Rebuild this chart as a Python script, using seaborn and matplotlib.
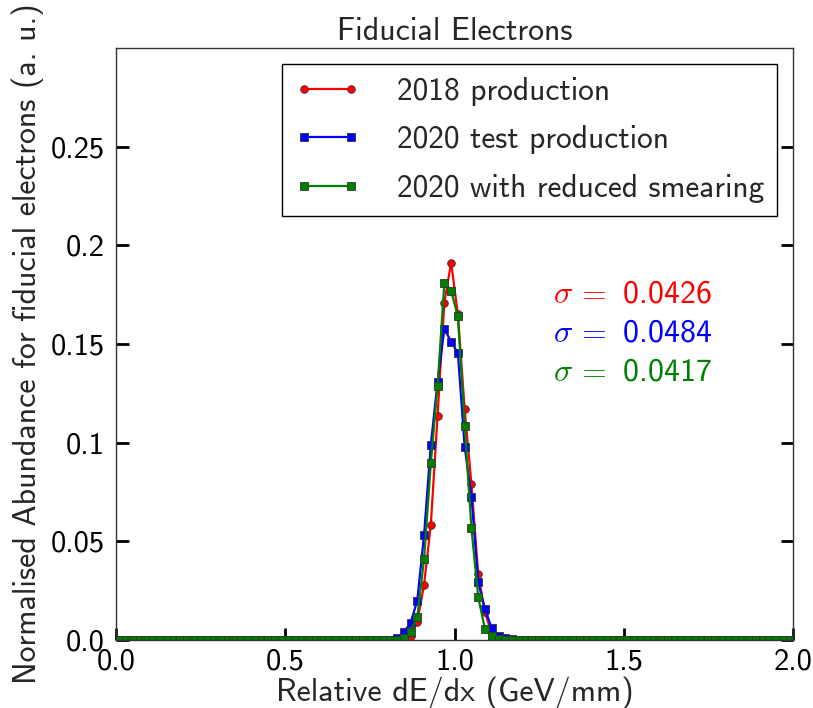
import numpy as np
import pandas as pd
import matplotlib
matplotlib.use("Agg")
import matplotlib.pyplot as plt
import seaborn as sns

# ---------------- data ----------------
bin_centers = np.round(np.arange(0.01, 2.0, 0.02), 2)   # 100 bins of width 0.02 on [0, 2]
peak_x = [0.83, 0.85, 0.87, 0.89, 0.91, 0.93, 0.95, 0.97, 0.99, 1.01,
          1.03, 1.05, 1.07, 1.09, 1.11, 1.13, 1.15, 1.17]
red_peak = [0.0, 0.0003, 0.0022, 0.0093, 0.0279, 0.0585, 0.1138, 0.1710, 0.1913, 0.1650,
            0.1170, 0.0790, 0.0333, 0.0140, 0.0035, 0.0010, 0.0002, 0.0]
blue_peak = [0.0010, 0.0042, 0.0085, 0.0200, 0.0532, 0.0989, 0.1310, 0.1577, 0.1513, 0.1454,
             0.0980, 0.0727, 0.0292, 0.0157, 0.0059, 0.0022, 0.0010, 0.0003]
green_peak = [0.0, 0.0010, 0.0042, 0.0115, 0.0410, 0.0895, 0.1290, 0.1810, 0.1770, 0.1640,
              0.1087, 0.0566, 0.0218, 0.0055, 0.0018, 0.0003, 0.0, 0.0]

labels = ["2018 production", "2020 test production", "2020 with reduced smearing"]
colors = ["red", "blue", "green"]
markers = ["o", "s", "s"]
sigmas = ["0.0426", "0.0484", "0.0417"]


def full(peak):
    vals = np.zeros(len(bin_centers))
    for xv, yv in zip(peak_x, peak):
        vals[np.argmin(np.abs(bin_centers - xv))] = yv
    return vals


series = [full(red_peak), full(blue_peak), full(green_peak)]

# ---------------- style ----------------
sns.set_style("ticks")
plt.rcParams["font.family"] = ["cmss10", "DejaVu Sans"]
plt.rcParams["mathtext.fontset"] = "cm"
plt.rcParams["axes.unicode_minus"] = False
plt.rcParams["axes.formatter.use_mathtext"] = False

FS_TICK = 22
FS = 23

fig = plt.figure(figsize=(8.13, 7.08), dpi=100)
ax = fig.add_axes([0.1427, 0.096, 0.9754 - 0.1427, 0.932 - 0.096])

for vals, lab, col, mk in zip(series, labels, colors, markers):
    df = pd.DataFrame({"x": bin_centers, "y": vals})
    sns.lineplot(data=df, x="x", y="y", ax=ax, color=col, label=lab,
                 marker=mk, markersize=5.5, markeredgecolor="#333333",
                 markeredgewidth=0.6, linewidth=1.6, estimator=None,
                 sort=True, errorbar=None)

ax.set_xlim(0, 2.0)
ax.set_ylim(0, 0.3)
ax.set_xticks([0.0, 0.5, 1.0, 1.5, 2.0])
ax.set_xticklabels(["0.0", "0.5", "1.0", "1.5", "2.0"])
ax.set_yticks([0.0, 0.05, 0.1, 0.15, 0.2, 0.25])
ax.set_yticklabels(["0.0", "0.05", "0.1", "0.15", "0.2", "0.25"])

ax.tick_params(axis="both", direction="in", length=9, width=2, labelsize=FS_TICK,
               colors="black")
ax.tick_params(axis="x", pad=6)
ax.tick_params(axis="y", pad=8, right=True)
for sp in ax.spines.values():
    sp.set_visible(True)
    sp.set_linewidth(1.0)
    sp.set_color("#333333")

ax.set_xlabel("Relative dE/dx (GeV/mm)", fontsize=FS, labelpad=1)
ax.set_ylabel("Normalised Abundance for fiducial electrons (a. u.)", fontsize=FS, labelpad=5)
ax.set_title("Fiducial Electrons", fontsize=FS, pad=6)

leg = ax.legend(loc="upper right", fontsize=22.6, numpoints=2, fancybox=False,
                framealpha=1, edgecolor="black", handlelength=2.1,
                handletextpad=1.15, labelspacing=0.62, borderpad=0.42,
                borderaxespad=0.5)
leg.get_frame().set_linewidth(1.0)

for i, (s, col) in enumerate(zip(sigmas, colors)):
    ax.text(1.29, 0.1755 - i * 0.0198, r"$\sigma\,=$ " + s,
            color=col, fontsize=FS, va="center", ha="left")

fig.savefig("out.png", dpi=100)
